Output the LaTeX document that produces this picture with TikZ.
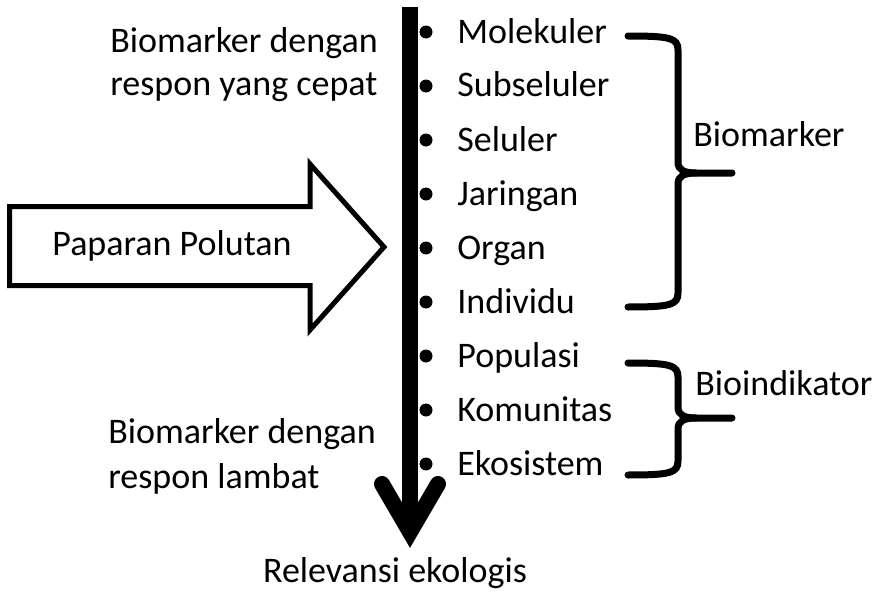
\documentclass[tikz,border=0pt]{standalone}
\usepackage{fontspec}
\setmainfont{Carlito}
\begin{document}
\begin{tikzpicture}[x=0.5pt,y=-0.5pt,
titik/.style={circle, fill, inner sep=0pt, minimum size=6.5pt},
teks/.style={anchor=base west, inner sep=0pt, font=\fontsize{18}{21.5}\selectfont},
kurung/.style={line width=3.5pt, line cap=round}]
\useasboundingbox (0,0) rectangle (880,594);
\coordinate (atas) at (410,7);
\coordinate (sendi) at (410,532);
\coordinate (kaitkiri) at (382,484);
\coordinate (kaitkanan) at (438,484);
\draw[line width=8pt](atas) -- (sendi);
\draw[line width=8pt, line cap=round, line join=miter](kaitkiri) -- (sendi) -- (kaitkanan);
\node[teks, anchor=base] (relevansi) at (395,582){Relevansi ekologis};
\draw[line width=2.5pt, line join=miter](9.5,206.5) -- (310,206.5) -- (310,164) -- (384,247) -- (310,330) -- (310,285.5) -- (9.5,285.5) -- cycle;
\node[teks] (paparan) at (52,255){Paparan Polutan};
\node[teks] (cepat1) at (110,53){Biomarker dengan};
\node[teks] (cepat2) at (110,96){respon yang cepat};
\node[teks] (lambat1) at (108,443){Biomarker dengan};
\node[teks] (lambat2) at (108,488){respon lambat};
\foreach \nama [count=\i from 0] in {Molekuler,Subseluler,Seluler,Jaringan,Organ,Individu,Populasi,Komunitas,Ekosistem}{
\node[titik] (dot\i) at (426,32+54*\i){};
\node[teks] (lvl\i) at (457,43+54*\i){\nama};
}
\coordinate (bmatas) at (628,36);
\coordinate (bmbawah) at (628,307);
\coordinate (bmujung) at (732,173);
\draw[kurung](bmatas) .. controls (670,36) and (678,38) .. (678,50) -- (678,162) .. controls (678,170) and (684,173) .. (696,173) -- (bmujung);
\draw[kurung](bmbawah) .. controls (670,307) and (678,305) .. (678,293) -- (678,184) .. controls (678,176) and (684,173) .. (696,173);
\node[teks] (biomarker) at (693,147){Biomarker};
\coordinate (biatas) at (628,363);
\coordinate (bibawah) at (628,475);
\coordinate (biujung) at (732,418);
\draw[kurung](biatas) .. controls (670,363) and (678,365) .. (678,377) -- (678,407) .. controls (678,415) and (684,418) .. (696,418) -- (biujung);
\draw[kurung](bibawah) .. controls (670,475) and (678,473) .. (678,461) -- (678,429) .. controls (678,421) and (684,418) .. (696,418);
\node[teks] (bioindikator) at (695,395){Bioindikator};

\end{tikzpicture}
\end{document}
